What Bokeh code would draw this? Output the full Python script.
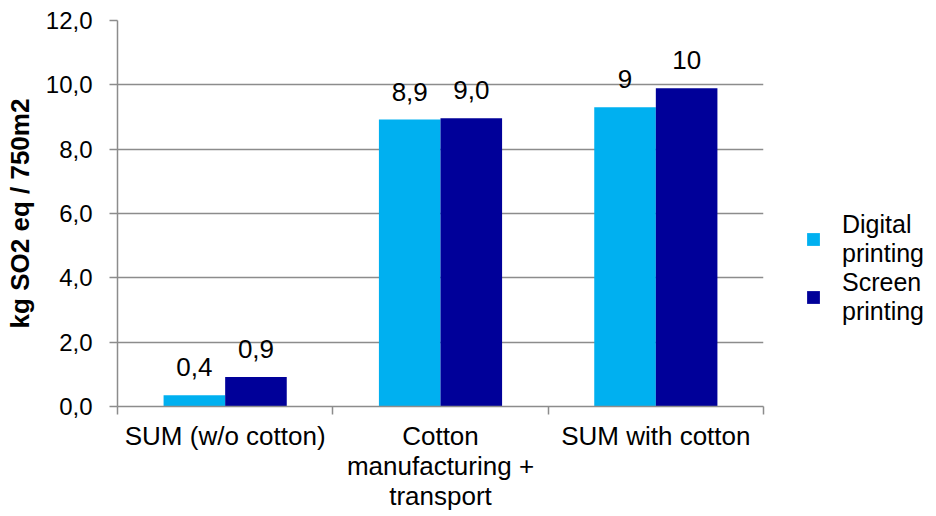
from bokeh.plotting import figure
from bokeh.models import (ColumnDataSource, Range1d, FixedTicker, Legend, LegendItem)
from bokeh.core.properties import value
from bokeh.embed import file_html
from bokeh.resources import INLINE

# ---- data ----
categories = ["SUM (w/o cotton)", "Cotton\nmanufacturing +\ntransport", "SUM with cotton"]
series_names = ["Digital\nprinting", "Screen\nprinting"]
digital = [0.35, 8.92, 9.30]
screen = [0.92, 8.96, 9.89]
digital_labels = ["0,4", "8,9", "9"]
screen_labels = ["0,9", "9,0", "10"]
y_ticks = [0, 2, 4, 6, 8, 10, 12]
y_tick_labels = ["0,0", "2,0", "4,0", "6,0", "8,0", "10,0", "12,0"]
colors = ["#00B0F0", "#000099"]

FONT = "Liberation Sans"
GRID = "#8C8C8C"
BAR_W = 0.286

n = len(categories)
centers = [i + 0.5 for i in range(n)]
src_d = ColumnDataSource(dict(x=[c - BAR_W / 2 for c in centers], top=digital, lab=digital_labels))
src_s = ColumnDataSource(dict(x=[c + BAR_W / 2 for c in centers], top=screen, lab=screen_labels))

p = figure(frame_width=646, frame_height=386, x_range=Range1d(0, n), y_range=Range1d(0, 12),
           output_backend="svg", toolbar_location=None,
           min_border_left=117, min_border_top=20, min_border_right=157, min_border_bottom=96)
p.outline_line_color = None
p.background_fill_color = "white"
p.border_fill_color = "white"

r1 = p.vbar(x="x", top="top", width=BAR_W, source=src_d, fill_color=colors[0], line_color=None)
r2 = p.vbar(x="x", top="top", width=BAR_W, source=src_s, fill_color=colors[1], line_color=None)

for src in (src_d, src_s):
    p.text(x="x", y="top", text="lab", source=src, text_align="center", text_baseline="alphabetic",
           y_offset=-28, text_font=value(FONT), text_font_size="26px", text_color="black")

# x axis
xa = p.xaxis[0]
xa.ticker = FixedTicker(ticks=centers, minor_ticks=list(range(n + 1)))
xa.major_label_overrides = {c: lab for c, lab in zip(centers, categories)}
xa.major_tick_line_color = None
xa.minor_tick_line_color = GRID
xa.minor_tick_line_width = 1.5
xa.minor_tick_out = 8
xa.minor_tick_in = 0
xa.axis_line_color = GRID
xa.axis_line_width = 1.5
xa.major_label_text_font = FONT
xa.major_label_text_font_size = "26px"
xa.major_label_text_color = "black"
xa.major_label_text_line_height = 1.0
xa.major_label_standoff = 6

# y axis
ya = p.yaxis[0]
ya.ticker = FixedTicker(ticks=y_ticks)
ya.major_label_overrides = {t: lab for t, lab in zip(y_ticks, y_tick_labels)}
ya.major_tick_line_color = GRID
ya.major_tick_line_width = 1.5
ya.major_tick_out = 8
ya.major_tick_in = 0
ya.minor_tick_line_color = None
ya.axis_line_color = GRID
ya.axis_line_width = 1.5
ya.major_label_text_font = FONT
ya.major_label_text_font_size = "24px"
ya.major_label_text_color = "black"
ya.major_label_standoff = 17
ya.axis_label = "kg SO2 eq / 750m2"
ya.axis_label_text_font = FONT
ya.axis_label_text_font_size = "26px"
ya.axis_label_text_font_style = "bold"
ya.axis_label_text_color = "black"
ya.axis_label_standoff = 8

p.xgrid.grid_line_color = None
p.ygrid.ticker = FixedTicker(ticks=y_ticks)
p.ygrid.grid_line_color = GRID
p.ygrid.grid_line_width = 1.5

legend = Legend(items=[LegendItem(label=series_names[0], renderers=[r1]),
                       LegendItem(label=series_names[1], renderers=[r2])],
                location=(42, 80), padding=0, margin=0, spacing=0,
                glyph_width=16, glyph_height=16, label_standoff=21,
                border_line_color=None, background_fill_alpha=0,
                label_text_font=FONT, label_text_font_size="25px",
                label_text_line_height=1.05, label_text_color="black")
p.add_layout(legend, "right")

open("out.html", "w").write(file_html(p, INLINE))
